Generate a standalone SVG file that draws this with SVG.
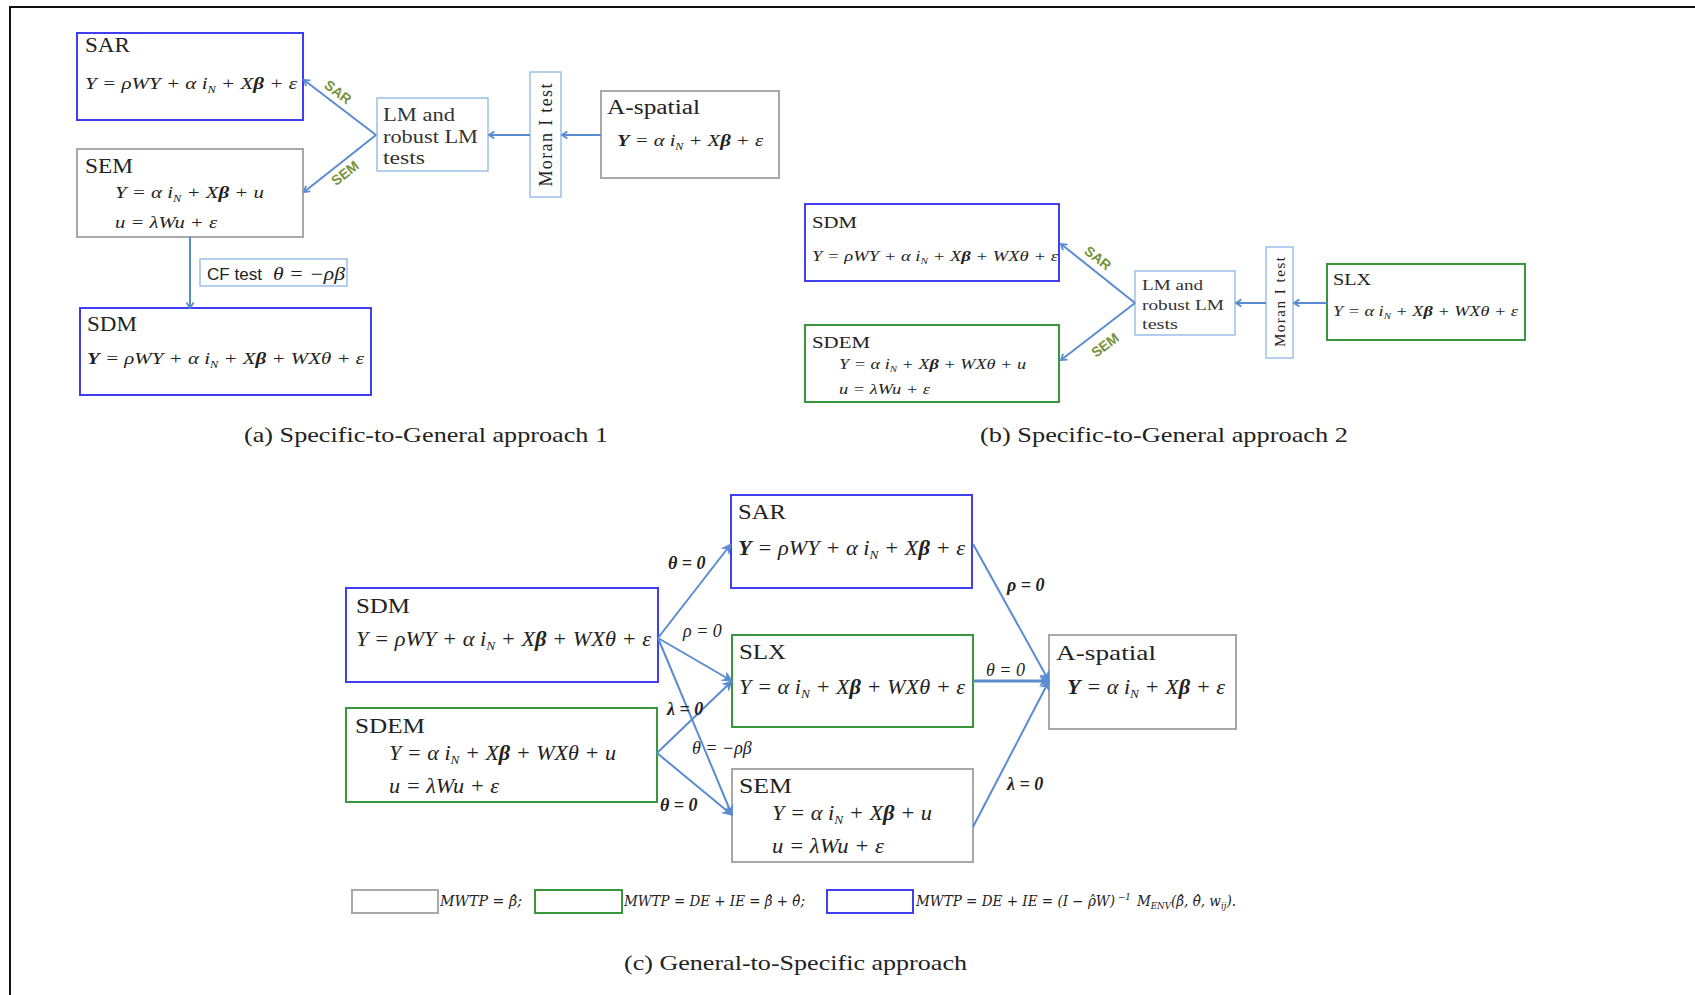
<svg xmlns="http://www.w3.org/2000/svg" width="1695" height="995" viewBox="0 0 1695 995">
<style>
.bx{fill:#fff;stroke-width:2}
.blue{stroke:#3f3ff0}
.green{stroke:#3a963a}
.gray{stroke:#a8a8a8}
.lb{fill:#fff;stroke:#9cc0e8;stroke-width:1.5}
text{fill:#222;font-family:"Liberation Serif","DejaVu Serif",serif}
.eq{font-style:italic}
.b{font-weight:bold}
.lm{fill:#333}
.cap{font-size:21px}
.sans{font-family:"Liberation Sans","Open Sans",sans-serif}
.al{font-family:"Liberation Sans","Open Sans",sans-serif;font-weight:bold;fill:#76923c;font-size:14px}
.cl{font-style:italic;font-size:18px}
.con line{stroke:#5b8bd0;stroke-width:2;fill:none}
.leg{font-style:italic;font-size:14px;font-family:"DejaVu Serif","Liberation Serif",serif}
</style>
<defs>
<marker id="chev" viewBox="0 0 10 10" refX="9" refY="5" markerWidth="9" markerHeight="9" markerUnits="userSpaceOnUse" orient="auto">
<path d="M3,1 L9,5 L3,9" fill="none" stroke="#5b8bd0" stroke-width="2"/>
</marker>
<marker id="tri" viewBox="0 0 10 10" refX="9" refY="5" markerWidth="11" markerHeight="11" markerUnits="userSpaceOnUse" orient="auto">
<path d="M0,0 L10,5 L0,10 L3,5 z" fill="#5b8bd0"/>
</marker>
</defs>
<rect width="1695" height="995" fill="#fff"/>
<g id="frame"><line x1="9" y1="7" x2="1695" y2="7" stroke="#111" stroke-width="2"/><line x1="10" y1="6" x2="10" y2="995" stroke="#111" stroke-width="2"/></g>

<!-- Panel (a) -->
<g id="a-sar"><rect class="bx blue" x="77" y="33" width="226" height="87"/>
<text x="85" y="52" font-size="20" textLength="45" lengthAdjust="spacingAndGlyphs">SAR</text>
<text class="eq" x="85" y="89" font-size="17" textLength="212" lengthAdjust="spacingAndGlyphs">Y = ρWY + α i<tspan font-size="10" dy="4">N</tspan><tspan dy="-4"> + X<tspan class="b">β</tspan> + ε</tspan></text></g>
<g id="a-sem"><rect class="bx gray" x="77" y="149" width="226" height="88"/>
<text x="85" y="173" font-size="20" textLength="48" lengthAdjust="spacingAndGlyphs">SEM</text>
<text class="eq" x="115" y="198" font-size="17" textLength="149" lengthAdjust="spacingAndGlyphs">Y = α i<tspan font-size="10" dy="4">N</tspan><tspan dy="-4"> + X<tspan class="b">β</tspan> + u</tspan></text>
<text class="eq" x="115" y="228" font-size="17" textLength="102" lengthAdjust="spacingAndGlyphs">u = λWu + ε</text></g>
<g id="a-lm"><rect class="lb" x="377" y="98" width="111" height="73"/>
<text class="lm" x="383" y="121" font-size="18" textLength="72" lengthAdjust="spacingAndGlyphs">LM and</text>
<text class="lm" x="383" y="143" font-size="18" textLength="95" lengthAdjust="spacingAndGlyphs">robust LM</text>
<text class="lm" x="383" y="164" font-size="18" textLength="42" lengthAdjust="spacingAndGlyphs">tests</text></g>
<g id="a-moran"><rect class="lb" x="530" y="72" width="31" height="125"/>
<text x="546" y="141" font-size="18" text-anchor="middle" textLength="103" lengthAdjust="spacing" transform="rotate(-90 546 135)">Moran I test</text></g>
<g id="a-aspatial"><rect class="bx gray" x="601" y="91" width="178" height="87"/>
<text x="607" y="114" font-size="20" textLength="93" lengthAdjust="spacingAndGlyphs">A-spatial</text>
<text class="eq" x="617" y="146" font-size="17" textLength="146" lengthAdjust="spacingAndGlyphs"><tspan class="b">Y</tspan> = α i<tspan font-size="10" dy="4">N</tspan><tspan dy="-4"> + X<tspan class="b">β</tspan> + ε</tspan></text></g>
<g id="a-sdm"><rect class="bx blue" x="80" y="308" width="291" height="87"/>
<text x="87" y="331" font-size="20" textLength="50" lengthAdjust="spacingAndGlyphs">SDM</text>
<text class="eq" x="87" y="364" font-size="17" textLength="277" lengthAdjust="spacingAndGlyphs"><tspan class="b">Y</tspan> = ρWY + α i<tspan font-size="10" dy="4">N</tspan><tspan dy="-4"> + X<tspan class="b">β</tspan> + WXθ + ε</tspan></text></g>
<g id="a-cf"><rect class="lb" x="200" y="259" width="147" height="27"/>
<text class="sans" x="207" y="280" font-size="16" textLength="55" lengthAdjust="spacingAndGlyphs">CF test</text>
<text class="eq" x="273" y="280" font-size="18" textLength="72" lengthAdjust="spacingAndGlyphs">θ = −ρβ</text></g>

<g id="connectors-a" class="con">
<line x1="601" y1="135" x2="562" y2="135" marker-end="url(#chev)"/>
<line x1="530" y1="135" x2="489" y2="135" marker-end="url(#chev)"/>
<line x1="376" y1="135" x2="304" y2="80" marker-end="url(#chev)"/>
<line x1="376" y1="135" x2="304" y2="192" marker-end="url(#chev)"/>
<line x1="190" y1="237" x2="190" y2="308" marker-end="url(#chev)"/>
</g>
<text class="al" x="338" y="97" text-anchor="middle" transform="rotate(37 338 92)">SAR</text>
<text class="al" x="345" y="178" text-anchor="middle" transform="rotate(-38 345 173)">SEM</text>
<text class="cap" x="244" y="442" textLength="364" lengthAdjust="spacingAndGlyphs">(a) Specific-to-General approach 1</text>

<!-- Panel (b) -->
<g id="b-sdm"><rect class="bx blue" x="805" y="204" width="254" height="77"/>
<text x="812" y="228" font-size="17" textLength="45" lengthAdjust="spacingAndGlyphs">SDM</text>
<text class="eq" x="812" y="261" font-size="15" textLength="246" lengthAdjust="spacingAndGlyphs">Y = ρWY + α i<tspan font-size="9" dy="3">N</tspan><tspan dy="-3"> + X<tspan class="b">β</tspan> + WXθ + ε</tspan></text></g>
<g id="b-sdem"><rect class="bx green" x="805" y="325" width="254" height="77"/>
<text x="812" y="348" font-size="17" textLength="58" lengthAdjust="spacingAndGlyphs">SDEM</text>
<text class="eq" x="839" y="369" font-size="15" textLength="187" lengthAdjust="spacingAndGlyphs">Y = α i<tspan font-size="9" dy="3">N</tspan><tspan dy="-3"> + X<tspan class="b">β</tspan> + WXθ + u</tspan></text>
<text class="eq" x="839" y="394" font-size="15" textLength="91" lengthAdjust="spacingAndGlyphs">u = λWu + ε</text></g>
<g id="b-lm"><rect class="lb" x="1135" y="271" width="100" height="64"/>
<text class="lm" x="1142" y="290" font-size="15" textLength="61" lengthAdjust="spacingAndGlyphs">LM and</text>
<text class="lm" x="1142" y="310" font-size="15" textLength="82" lengthAdjust="spacingAndGlyphs">robust LM</text>
<text class="lm" x="1142" y="329" font-size="15" textLength="36" lengthAdjust="spacingAndGlyphs">tests</text></g>
<g id="b-moran"><rect class="lb" x="1266" y="247" width="27" height="111"/>
<text x="1280" y="307" font-size="15" text-anchor="middle" textLength="90" lengthAdjust="spacing" transform="rotate(-90 1280 302)">Moran I test</text></g>
<g id="b-slx"><rect class="bx green" x="1327" y="264" width="198" height="76"/>
<text x="1333" y="285" font-size="17" textLength="38" lengthAdjust="spacingAndGlyphs">SLX</text>
<text class="eq" x="1333" y="316" font-size="15" textLength="185" lengthAdjust="spacingAndGlyphs">Y = α i<tspan font-size="9" dy="3">N</tspan><tspan dy="-3"> + X<tspan class="b">β</tspan> + WXθ + ε</tspan></text></g>
<g id="connectors-b" class="con">
<line x1="1327" y1="303" x2="1294" y2="303" marker-end="url(#chev)"/>
<line x1="1266" y1="303" x2="1236" y2="303" marker-end="url(#chev)"/>
<line x1="1135" y1="303" x2="1061" y2="244" marker-end="url(#chev)"/>
<line x1="1135" y1="303" x2="1061" y2="360" marker-end="url(#chev)"/>
</g>
<text class="al" x="1098" y="263" text-anchor="middle" transform="rotate(38 1098 258)">SAR</text>
<text class="al" x="1105" y="350" text-anchor="middle" transform="rotate(-37 1105 345)">SEM</text>
<text class="cap" x="980" y="442" textLength="368" lengthAdjust="spacingAndGlyphs">(b) Specific-to-General approach 2</text>

<!-- Panel (c) -->
<g id="c-sar"><rect class="bx blue" x="731" y="495" width="241" height="93"/>
<text x="738" y="519" font-size="22" textLength="48" lengthAdjust="spacingAndGlyphs">SAR</text>
<text class="eq" x="738" y="555" font-size="20" textLength="227" lengthAdjust="spacingAndGlyphs"><tspan class="b">Y</tspan> = ρWY + α i<tspan font-size="12" dy="4">N</tspan><tspan dy="-4"> + X<tspan class="b">β</tspan> + ε</tspan></text></g>
<g id="c-sdm"><rect class="bx blue" x="346" y="588" width="312" height="94"/>
<text x="356" y="613" font-size="22" textLength="54" lengthAdjust="spacingAndGlyphs">SDM</text>
<text class="eq" x="356" y="646" font-size="20" textLength="295" lengthAdjust="spacingAndGlyphs">Y = ρWY + α i<tspan font-size="12" dy="4">N</tspan><tspan dy="-4"> + X<tspan class="b">β</tspan> + WXθ + ε</tspan></text></g>
<g id="c-slx"><rect class="bx green" x="732" y="635" width="241" height="92"/>
<text x="739" y="659" font-size="22" textLength="47" lengthAdjust="spacingAndGlyphs">SLX</text>
<text class="eq" x="739" y="694" font-size="20" textLength="226" lengthAdjust="spacingAndGlyphs">Y = α i<tspan font-size="12" dy="4">N</tspan><tspan dy="-4"> + X<tspan class="b">β</tspan> + WXθ + ε</tspan></text></g>
<g id="c-sdem"><rect class="bx green" x="346" y="708" width="311" height="94"/>
<text x="355" y="733" font-size="22" textLength="70" lengthAdjust="spacingAndGlyphs">SDEM</text>
<text class="eq" x="389" y="760" font-size="20" textLength="227" lengthAdjust="spacingAndGlyphs">Y = α i<tspan font-size="12" dy="4">N</tspan><tspan dy="-4"> + X<tspan class="b">β</tspan> + WXθ + u</tspan></text>
<text class="eq" x="389" y="793" font-size="20" textLength="110" lengthAdjust="spacingAndGlyphs">u = λWu + ε</text></g>
<g id="c-sem"><rect class="bx gray" x="732" y="769" width="241" height="93"/>
<text x="739" y="793" font-size="22" textLength="53" lengthAdjust="spacingAndGlyphs">SEM</text>
<text class="eq" x="772" y="820" font-size="20" textLength="160" lengthAdjust="spacingAndGlyphs">Y = α i<tspan font-size="12" dy="4">N</tspan><tspan dy="-4"> + X<tspan class="b">β</tspan> + u</tspan></text>
<text class="eq" x="772" y="853" font-size="20" textLength="112" lengthAdjust="spacingAndGlyphs">u = λWu + ε</text></g>
<g id="c-aspatial"><rect class="bx gray" x="1049" y="635" width="187" height="94"/>
<text x="1056" y="660" font-size="22" textLength="100" lengthAdjust="spacingAndGlyphs">A-spatial</text>
<text class="eq" x="1067" y="694" font-size="20" textLength="158" lengthAdjust="spacingAndGlyphs"><tspan class="b">Y</tspan> = α i<tspan font-size="12" dy="4">N</tspan><tspan dy="-4"> + X<tspan class="b">β</tspan> + ε</tspan></text></g>

<g id="connectors-c" class="con">
<line x1="658" y1="638" x2="731" y2="544" marker-end="url(#tri)"/>
<line x1="658" y1="638" x2="732" y2="681" marker-end="url(#tri)"/>
<line x1="658" y1="638" x2="732" y2="815" marker-end="url(#tri)"/>
<line x1="657" y1="753" x2="732" y2="681" marker-end="url(#tri)"/>
<line x1="657" y1="753" x2="732" y2="815" marker-end="url(#tri)"/>
<line x1="973" y1="544" x2="1049" y2="681" marker-end="url(#tri)"/>
<line x1="973" y1="681" x2="1049" y2="681" marker-end="url(#tri)" style="stroke-width:3"/>
<line x1="973" y1="827" x2="1049" y2="681" marker-end="url(#tri)"/>
</g>
<g id="c-labels">
<text class="cl b" x="668" y="569">θ = 0</text>
<text class="cl" x="683" y="637">ρ = 0</text>
<text class="cl b" x="667" y="715">λ = 0</text>
<text class="cl" x="692" y="754">θ = −ρβ</text>
<text class="cl b" x="660" y="811">θ = 0</text>
<text class="cl b" x="1007" y="591">ρ = 0</text>
<text class="cl" x="986" y="676">θ = 0</text>
<text class="cl b" x="1007" y="790">λ = 0</text>
</g>

<g id="legend">
<rect class="bx gray" x="352" y="890" width="86" height="23"/>
<text class="leg" x="440" y="906" textLength="82" lengthAdjust="spacingAndGlyphs">MWTP = β̂;</text>
<rect class="bx green" x="535" y="890" width="87" height="23"/>
<text class="leg" x="624" y="906" textLength="181" lengthAdjust="spacingAndGlyphs">MWTP = DE + IE = β̂ + θ̂;</text>
<rect class="bx blue" x="827" y="890" width="86" height="23"/>
<text class="leg" x="916" y="906" textLength="320" lengthAdjust="spacingAndGlyphs">MWTP = DE + IE = (I − ρ̂W)<tspan font-size="9" dx="3" dy="-6">−1</tspan><tspan dy="6" dx="2"> M</tspan><tspan font-size="9" dy="3">ENV</tspan><tspan dy="-3">(β̂, θ̂, w</tspan><tspan font-size="9" dy="3">ij</tspan><tspan dy="-3">).</tspan></text>
</g>
<text class="cap" x="624" y="970" textLength="343" lengthAdjust="spacingAndGlyphs">(c) General-to-Specific approach</text>
</svg>
